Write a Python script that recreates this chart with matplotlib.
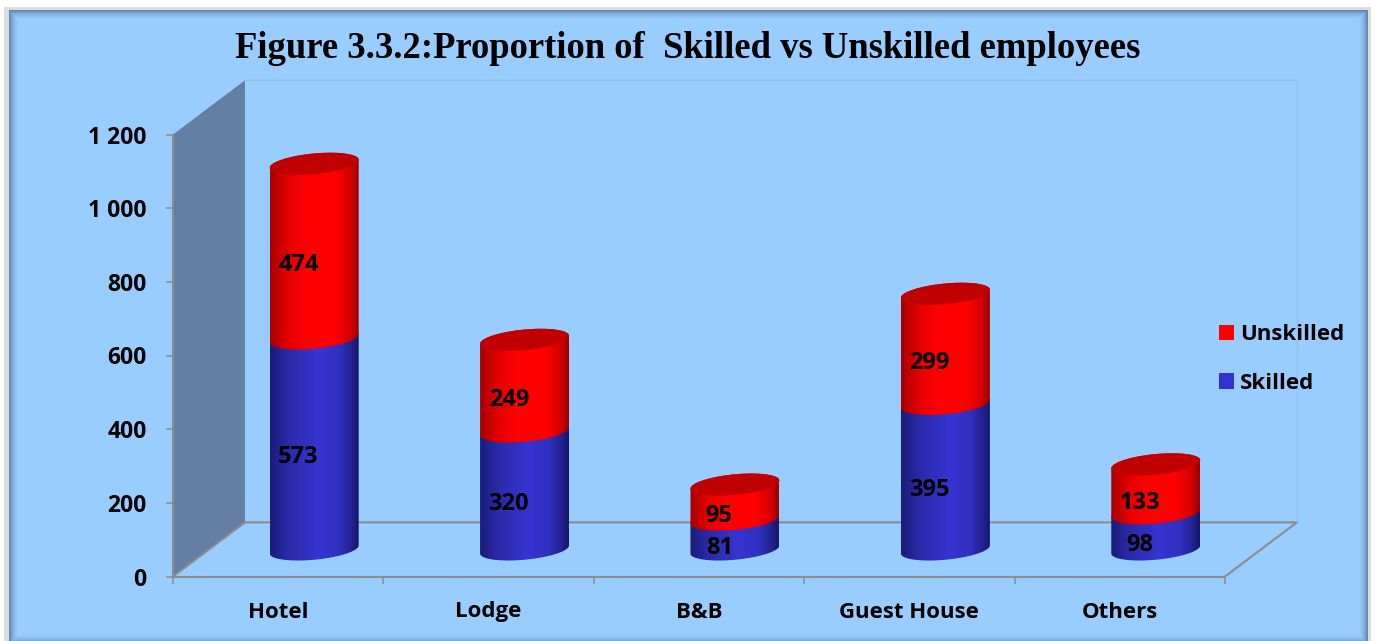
import numpy as np
import matplotlib
matplotlib.use('Agg')
import matplotlib.pyplot as plt
from matplotlib.colors import LinearSegmentedColormap
from matplotlib.patches import PathPatch, Patch, Polygon, Rectangle
from matplotlib.path import Path

# Data
categories = ['Hotel', 'Lodge', 'B&B', 'Guest House', 'Others']
skilled = [573, 320, 81, 395, 98]
unskilled = [474, 249, 95, 299, 133]
y_ticks = [0, 200, 400, 600, 800, 1000, 1200]
y_tick_labels = ['0', '200', '400', '600', '800', '1 000', '1 200']
title = 'Figure 3.3.2:Proportion of  Skilled vs Unskilled employees'

W, H = 1375, 641
plt.rcParams['font.family'] = ['Open Sans', 'DejaVu Sans']
plt.rcParams['font.weight'] = 'bold'

fig = plt.figure(figsize=(W / 100, H / 100), dpi=100, facecolor='white')

# Panel with its soft shadowed edge
bg = fig.add_axes([0, 0, 1, 1])
bg.set_axis_off()
pl, pr, pt, pb = 9, 1368, 10, 641
px, py = np.meshgrid(np.arange(pl, pr) + 0.5, np.arange(pt, pb) + 0.5)
dist = np.minimum.reduce([px - pl, pr - px, py - pt, pb + 3 - py])
shade = np.clip(1 - dist / 10, 0, 1) ** 1.8
base = np.array([0x99, 0xCC, 0xFF]) / 255
edge = np.array([0x5E, 0x80, 0xA8]) / 255
img = base + (edge - base) * shade[..., None]
bg.add_patch(Rectangle((4, 7), 1367, 640, fc='#DDDDDD', ec='none', zorder=1))
bg.imshow(img, extent=(pl, pr, pb, pt), zorder=2, aspect='auto')
bg.set_xlim(0, W)
bg.set_ylim(H, 0)

# Main axes = front plane of the 3D box
ax = fig.add_axes([173 / W, (H - 576.5) / H, 1052 / W, 442 / H])
ax.patch.set_alpha(0)

grey = '#8C8C8C'
depth_x = 0.342
depth_y = 147
x0, x1 = -0.5, len(categories) - 0.5
y_top = y_ticks[-1]

# side wall, back wall and floor
ax.add_patch(Polygon([(x0, 0), (x0 + depth_x, depth_y), (x0 + depth_x, y_top + depth_y), (x0, y_top)],
                     closed=True, fc='#647FA3', ec='none', clip_on=False, zorder=1))
ax.plot([x0 + depth_x, x1 + depth_x, x1 + depth_x], [y_top + depth_y, y_top + depth_y, depth_y],
        color='#90C0F0', lw=1, clip_on=False, zorder=1)
ax.plot([x0, x0 + depth_x, x1 + depth_x, x1], [0, depth_y, depth_y, 0],
        color=grey, lw=1.5, clip_on=False, zorder=2, solid_joinstyle='miter')


def ring(cx, yc, a, b, tilt, t):
    return np.column_stack([cx + a * np.cos(t), yc + tilt * np.cos(t) + b * np.sin(t)])


def cylinder(cx, y_low, y_high, a, b, tilt, cmap):
    lower = ring(cx, y_low, a, b, tilt, np.linspace(np.pi, 2 * np.pi, 60))
    upper = ring(cx, y_high, a, b, tilt, np.linspace(0, np.pi, 60))
    pts = np.vstack([lower, upper, lower[:1]])
    outline = PathPatch(Path(pts), transform=ax.transData, fc='none', ec='none')
    grad = np.linspace(0, 1, 128).reshape(1, -1)
    im = ax.imshow(grad, extent=(cx - a, cx + a, y_low - b - tilt, y_high + b + tilt), aspect='auto',
                   cmap=cmap, vmin=0, vmax=1, zorder=3, interpolation='bilinear')
    im.set_clip_path(outline)


red_cmap = LinearSegmentedColormap.from_list('r', [(0, '#A80000'), (0.22, '#E80000'), (0.42, '#FF0000'),
                                                   (0.72, '#FF0000'), (0.9, '#D80000'), (1, '#9A0000')])
blue_cmap = LinearSegmentedColormap.from_list('b', [(0, '#1C1C78'), (0.2, '#2A2AA8'), (0.55, '#3535D2'),
                                                    (0.78, '#3030C0'), (0.92, '#22228F'), (1, '#16166A')])
cyl_a = 0.2115
cyl_b = 28
cyl_tilt = 11
off_x = depth_x / 2
off_y = depth_y / 2

for i in range(len(categories)):
    cx = i + off_x
    s = skilled[i]
    u = unskilled[i]
    cylinder(cx, off_y, off_y + s, cyl_a, cyl_b, cyl_tilt, blue_cmap)
    cylinder(cx, off_y + s, off_y + s + u, cyl_a, cyl_b, cyl_tilt, red_cmap)
    top = ring(cx, off_y + s + u, cyl_a, cyl_b, cyl_tilt, np.linspace(0, 2 * np.pi, 90))
    ax.add_patch(Polygon(top, closed=True, fc='#C00000', ec='none', zorder=4))
    # data labels sit on the front of the cylinder
    lx = cx - 0.075
    ax.text(lx, off_y + s / 2 - 36, str(s), ha='center', va='center', fontsize=17, zorder=5, color='black')
    ax.text(lx, off_y + s + u / 2 - 38, str(u), ha='center', va='center', fontsize=17, zorder=5, color='black')

ax.set_xlim(x0, x1)
ax.set_ylim(0, y_top)

for side in ['top', 'right']:
    ax.spines[side].set_visible(False)
for side in ['left', 'bottom']:
    ax.spines[side].set_color(grey)
    ax.spines[side].set_linewidth(1.5)

ax.set_yticks(y_ticks)
ax.set_yticklabels(y_tick_labels, fontsize=16.5, fontweight='bold')
ax.tick_params(axis='y', length=5, width=1.1, color=grey, pad=14)

ax.set_xticks(np.arange(len(categories) + 1) - 0.5)
ax.set_xticklabels([])
ax.tick_params(axis='x', which='major', length=5, width=1.1, color=grey)
ax.set_xticks(np.arange(len(categories)), minor=True)
ax.set_xticklabels(categories, minor=True, fontsize=16, fontweight='bold')
ax.tick_params(axis='x', which='minor', length=0, pad=18)

leg = fig.legend(handles=[Patch(fc='#FF0000', ec='none', label='Unskilled'),
                          Patch(fc='#3333CC', ec='none', label='Skilled')],
                 loc='center left', bbox_to_anchor=(1199 / W, (H - 359) / H), frameon=False,
                 handlelength=0.68, handleheight=0.68, handletextpad=0.28, labelspacing=1.24,
                 prop={'family': 'Open Sans', 'weight': 'bold', 'size': 16})

fig.text(688 / W, (H - 49) / H, title, ha='center', va='center', fontsize=26.4,
         family=['Liberation Serif', 'DejaVu Serif'], fontweight='bold', color='black')

fig.savefig('out.png', dpi=100, facecolor='white')
